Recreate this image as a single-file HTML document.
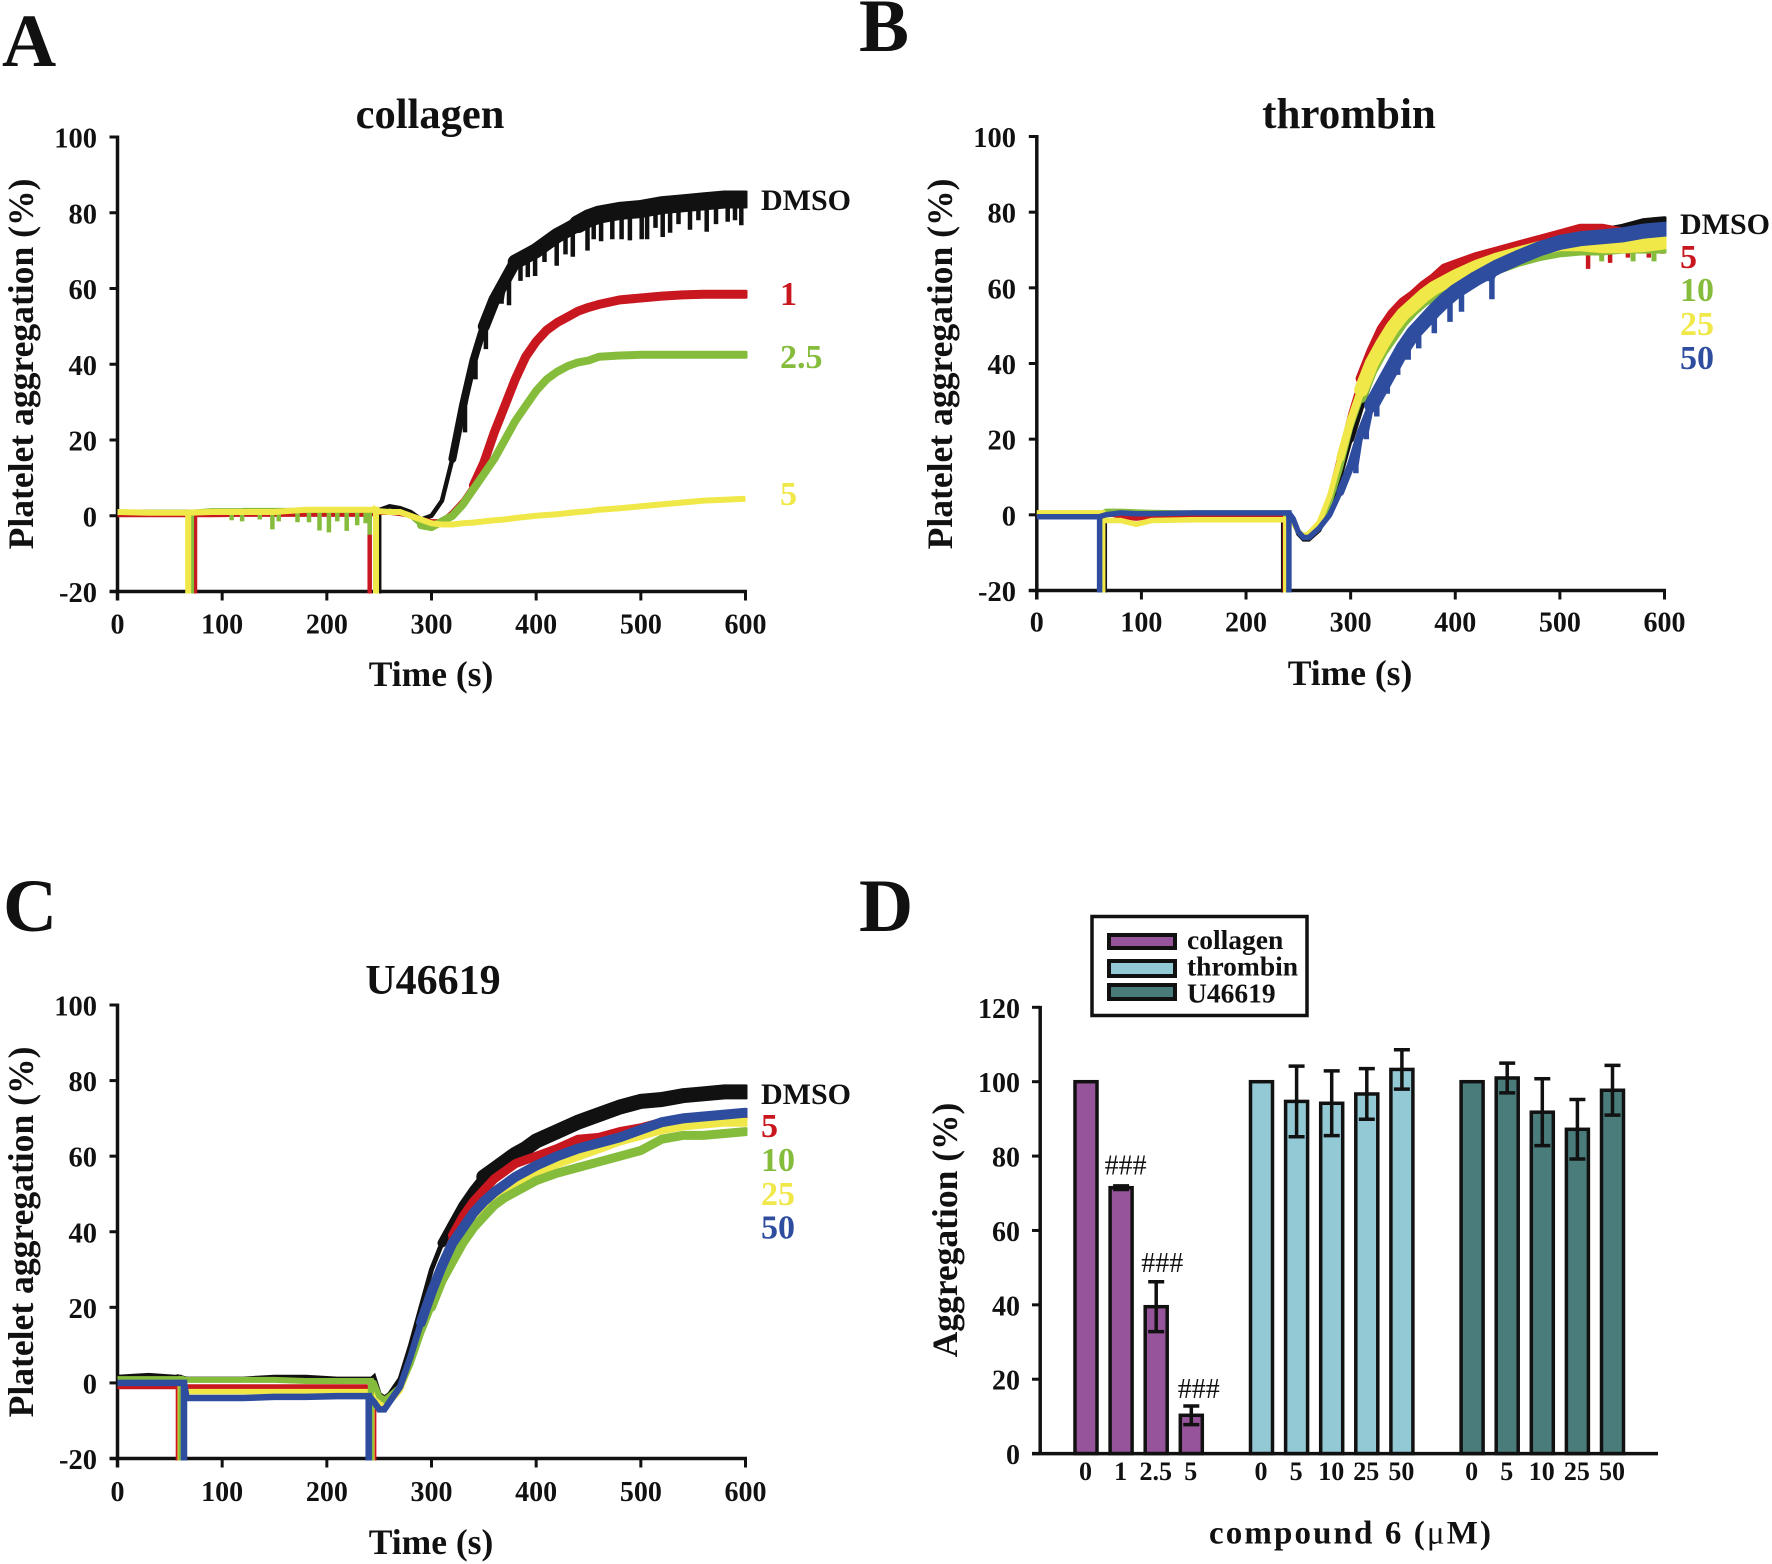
<!DOCTYPE html>
<html lang="en">
<head>
<meta charset="utf-8">
<title>Platelet aggregation panels</title>
<style>
html,body{margin:0;padding:0;background:#fff;}
svg{display:block;}
text{font-family:"Liberation Serif",serif;font-weight:bold;fill:#111;}
</style>
</head>
<body>
<svg id="fig" xmlns="http://www.w3.org/2000/svg" width="1772" height="1564" viewBox="0 0 1772 1564">
<rect x="0" y="0" width="1772" height="1564" fill="#fff"/>
<text x="2" y="66" font-size="75">A</text>
<text x="859" y="51" font-size="75">B</text>
<text x="3" y="931" font-size="75">C</text>
<text x="859" y="931" font-size="75">D</text>
<text x="430" y="128" font-size="42.5" text-anchor="middle">collagen</text>
<text x="1349" y="128" font-size="43" text-anchor="middle">thrombin</text>
<text x="433" y="994" font-size="42" text-anchor="middle">U46619</text>
<text x="431" y="686" font-size="35.5" text-anchor="middle">Time (s)</text>
<text x="1350" y="685" font-size="35.5" text-anchor="middle">Time (s)</text>
<text x="431" y="1554" font-size="35.5" text-anchor="middle">Time (s)</text>
<text transform="translate(33,364) rotate(-90)" font-size="35.6" text-anchor="middle">Platelet aggregation (%)</text>
<text transform="translate(952,364) rotate(-90)" font-size="35.6" text-anchor="middle">Platelet aggregation (%)</text>
<text transform="translate(33,1232) rotate(-90)" font-size="35.6" text-anchor="middle">Platelet aggregation (%)</text>
<text transform="translate(957,1230) rotate(-90)" font-size="35.5" text-anchor="middle">Aggregation (%)</text>
<text x="1350" y="1543.5" font-size="33" text-anchor="middle" textLength="282" lengthAdjust="spacing">compound 6 (<tspan font-weight="normal">μ</tspan>M)</text>

<g>
<rect x="1092" y="916.5" width="215" height="99" fill="#fff" stroke="#111" stroke-width="3.5"/>
<rect x="1109" y="935" width="66" height="13" fill="#96549b" stroke="#111" stroke-width="4"/>
<rect x="1109" y="961" width="66" height="15" fill="#93c9d5" stroke="#111" stroke-width="4"/>
<rect x="1109" y="985" width="66" height="14" fill="#4a7c7c" stroke="#111" stroke-width="4"/>
<text x="1187" y="949" font-size="27.5">collagen</text>
<text x="1187" y="975.5" font-size="27.5">thrombin</text>
<text x="1187" y="1002.5" font-size="27.5">U46619</text>
</g>
</svg>

<script>
// ---------- shared tick labels ----------
const timeTicks = [0, 100, 200, 300, 400, 500, 600];
const aggTicks = [-20, 0, 20, 40, 60, 80, 100];
const barTicks = [0, 20, 40, 60, 80, 100, 120];

// ---------- Panel A: collagen ----------
const timesA = [0,30,60,90,120,150,180,210,240,250,260,270,280,290,300,310,320,330,340,350,360,370,380,390,400,410,420,430,440,450,460,480,500,520,540,560,580,600];
const blackA = [1,1,1,1,1,1,1,1,1,1.5,2.5,2,1,-1,0,4,15,29,41,50,57,62,67,68.5,70,72,74,75.5,77,78.5,79.5,80.5,81,82,82.5,83,83.5,83.5];
const redA = [0.2,0.2,0.2,0.2,0.3,0.3,0.3,0.3,0.3,0.8,0.8,0.5,0,-1,-1.5,-1.5,1,4,8,14,22,29,36,42,46,49,51,52.5,54,55,55.8,57,57.5,58,58.3,58.5,58.5,58.5];
const greenA = [1,1,1,1.4,1.5,1.5,1.3,1.3,1.3,1.2,1,0.8,0,-2.5,-3,-1.5,0,3,7,11,15,20,25,29,33,36,38,39.5,40.5,41,42,42.3,42.5,42.5,42.5,42.5,42.5,42.5];
const yellowA = [1,0.8,0.8,1,1,1,1.6,1.6,1.6,1.2,1,1,0,-1,-2,-2.3,-2.3,-2,-1.8,-1.5,-1.2,-1,-0.6,-0.3,0,0.2,0.4,0.7,1,1.2,1.6,2,2.5,3,3.5,4,4.2,4.5];
const blackASpikeT = [250,332,342,352,367,374,385,392,399,408,419.6,428,435,449,455,462,472.7,481.6,489.6,500.8,506,514,520.9,528,536,547,555,562.9,571.8,583,590,596];
const blackASpikeV = [-25,22,36,44,56,55.6,62,63,63.3,67,66,69,68.4,70,73,72.5,73,73,72.7,73,73,76,73.6,74.7,77,75.5,78,75,77,77.6,78,76.7];
const redASpikeT = [74,241];
const redASpikeV = [-25,-25];
const greenASpikeT = [71,109,119,136,148,154,172,183,193,202,210,219,229,237,241];
const greenASpikeV = [-25,-1.2,-1.5,-1,-3.6,-1.5,-1.7,-1.7,-3.9,-4.4,-1.5,-4,-2.5,-2,-5];
const yellowASpikeT = [67.5,247];
const yellowASpikeV = [-25,-25];
const labelsA = ['DMSO', '1', '2.5', '5'];

// ---------- Panel B: thrombin ----------
const timesB = [0,30,58,66,80,95,110,150,200,235,245,250,255,260,270,280,290,300,310,320,330,340,350,360,370,380,390,400,420,440,460,480,500,520,540,560,580,600];
const blackB = [0,0,0,0,0,0,0,0,0,0,-1,-5,-6.5,-6.5,-4,2,10,20,29,37,43,48,52,55,58,60,62,64,66,68,70,72,74,75,75,76,77.5,78];
const redB = [0,0,0,0.5,-0.5,-1,-0.5,0,0,0,-1.5,-4.5,-5.5,-5,-2.5,5,16,27,36,43,49,53,56,58,60.5,62.5,65,66,68,69.5,71,72.5,74,75.5,75.5,74.5,74,73];
const greenB = [0.5,0.5,0.5,1,1,0.8,0.7,0.5,0.5,0.5,-1,-4.5,-5.5,-5.5,-3,3,12,23,31,38,43,47,51,54,56.5,58,60,61.5,63.5,65,67,68.5,69.5,70,70,70.5,70.5,70.5];
const yellowB = [0.5,0.5,0.5,-1.5,-1.5,-2.5,-1.5,-1.3,-1.3,-1.3,-2,-4.5,-5.5,-5,-2,5,15,25,33,40,45,49.5,53,55.5,58,60,61.5,63,65.5,67.5,69,70.5,71.5,71.5,71,71,71.3,72];
const blueB = [-0.5,-0.5,-0.5,0,0.5,0.3,0.3,0.5,0.5,0.5,-1,-4.5,-6,-6,-3.5,0,6,13,22,29,34,39,44,48,51,54,56.7,59,62.5,65.5,68,70.3,72,73,73.5,74,75,75.5];
const blackBSpikeT = [65,235.5];
const blackBSpikeV = [-25,-25];
const redBSpikeT = [63,237,527,548,565,585,598];
const redBSpikeV = [-25,-25,65,66.6,68,68,69];
const greenBSpikeT = [63,238,540,570,590];
const greenBSpikeV = [-25,-25,67,67,67];
const yellowBSpikeT = [63,238];
const yellowBSpikeV = [-25,-25];
const blueBSpikeT = [60,241,305,315,325,335,345,355,365,380,395,406,435];
const blueBSpikeV = [-25,-25,11,20,26,32,37,41,44,48,51,53.7,57];
const labelsB = ['DMSO', '5', '10', '25', '50'];

// ---------- Panel C: U46619 ----------
const timesC = [0,30,55,66,90,120,150,180,210,238,245,250,255,260,270,280,290,300,310,320,330,340,350,360,370,380,390,400,420,440,460,480,500,520,540,560,580,600];
const blackC = [1.5,2,1.5,1,1,1,1.5,1.5,1,1,1.5,-3,-4,-3,1,10,20,30,37,42,47,51,54.5,56.5,58.5,60.5,62,64,66.5,69,71,73,74.5,75,76,76.5,77,77];
const redC = [-1,-1,-1,-1,-1,-1,-1,-1,-1,-1,-1.5,-5,-6,-5,-2,6,15,24,32,39,44,48,51,54,56,58,59,60,62,64.5,65,66.5,67.5,69,69.5,70,70,70];
const yellowC = [0,0,0,-2.3,-2.3,-2.3,-2.3,-2.3,-2.3,-2.3,-3,-5.5,-6,-5,-2,5,14,22,29,35,40,43,46,49,51,52.5,54,55.5,58,60,62,64,65.5,67,68,68.5,69,69];
const greenC = [1,1,1,0.8,0.8,0.8,0.8,0.5,0.5,0.5,0,-3.5,-4.5,-3.5,-1,5,13,20,27,32,37,41,44,47,49,50.5,52,53.5,55.5,57,58.5,60,61.5,64.5,65.5,65.5,66,66.5];
const blueC = [0,0,0,-4,-4,-4,-3.7,-3.7,-3.5,-3.5,-5,-7,-7,-5,-1,7,16,24,31,37,41,45,48,50.5,52.5,54.5,56,57.5,60,62,63.5,65,67,69,70,70.5,71,71.5];
const blackCSpikeT = [59,243];
const blackCSpikeV = [-25,-25];
const redCSpikeT = [58,245];
const redCSpikeV = [-25,-25];
const yellowCSpikeT = [60,243];
const yellowCSpikeV = [-25,-25];
const greenCSpikeT = [61,242];
const greenCSpikeV = [-25,-25];
const blueCSpikeT = [63.5,240];
const blueCSpikeV = [-25,-25];
const labelsC = ['DMSO', '5', '10', '25', '50'];

// ---------- Panel D: bars ----------
const barCategories = ['0','1','2.5','5','0','5','10','25','50','0','5','10','25','50'];
const barGroups = [0,0,0,0,1,1,1,1,1,2,2,2,2,2];
const barValues = [100,71.5,39.5,10.3,100,94.7,94.2,96.7,103.3,100,101,91.8,87.2,97.7];
const barErrors = [0,0.5,6.7,2.5,0,9.5,8.7,6.8,5.3,0,4,9,8,6.7];
const barSignificance = ['','###','###','###','','','','','','','','','',''];
const groupColors = ['#96549b','#93c9d5','#4a7c7c'];

// ---------- helpers ----------
const NS = 'http://www.w3.org/2000/svg';
const fig = document.getElementById('fig');
const COLORS = {black:'#111111', red:'#c8171e', green:'#86bc3c', yellow:'#f0e848', blue:'#2f4d9f'};

function shape(parent, tag, attrs) {
  const el = document.createElementNS(NS, tag);
  for (const k in attrs) el.setAttribute(k, attrs[k]);
  parent.appendChild(el);
  return el;
}
function makeScales(x0, x1, yTop, yBot) {
  return {
    x: function (t) { return x0 + t / 600 * (x1 - x0); },
    y: function (v) { return yBot - (v + 20) / 120 * (yBot - yTop); }
  };
}
function tracePath(sc, times, values, spikeT, spikeV) {
  let d = '';
  for (let i = 0; i < times.length; i++) {
    d += (i ? 'L' : 'M') + sc.x(times[i]).toFixed(1) + ' ' + sc.y(values[i]).toFixed(1);
    for (let s = 0; s < spikeT.length; s++) {
      const inRange = spikeT[s] >= times[i] && (i === times.length - 1 ? spikeT[s] === times[i] : spikeT[s] < times[i + 1]);
      if (inRange) {
        const sx = sc.x(spikeT[s]).toFixed(1);
        d += 'L' + sx + ' ' + sc.y(values[i]).toFixed(1);
        d += 'L' + sx + ' ' + sc.y(spikeV[s]).toFixed(1);
        d += 'L' + sx + ' ' + sc.y(values[i]).toFixed(1);
      }
    }
  }
  return d;
}
function bandPath(sc, times, values, from) {
  let d = '';
  for (let i = 0; i < times.length; i++) {
    if (times[i] >= from) {
      d += (d ? 'L' : 'M') + sc.x(times[i]).toFixed(1) + ' ' + sc.y(values[i]).toFixed(1);
    }
  }
  return d;
}
function drawAxes(g, sc, x0, x1, yTop, yBot, panel, xLabelBase, yLabelRight) {
  const yAxis = shape(g, 'line', {x1:x0, x2:x0, y1:yTop-1.5, y2:yBot+9, stroke:'#111', 'stroke-width':3.5});
  
  
  const xAxis = shape(g, 'line', {x1:x0-8, x2:x1+1.5, y1:yBot, y2:yBot, stroke:'#111', 'stroke-width':3.5});
  
  
  timeTicks.forEach(function (t) {
    const tick = shape(g, 'line', {x1:sc.x(t), x2:sc.x(t), y1:yBot, y2:yBot+9, stroke:'#111', 'stroke-width':3});
    
    
    const lab = shape(g, 'text', {x:sc.x(t), y:xLabelBase, 'font-size':28, 'text-anchor':'middle'});
    lab.textContent = String(t);
    
    
  });
  aggTicks.forEach(function (v) {
    const tick = shape(g, 'line', {x1:x0-8, x2:x0, y1:sc.y(v), y2:sc.y(v), stroke:'#111', 'stroke-width':3});
    
    
    const lab = shape(g, 'text', {x:yLabelRight, y:sc.y(v)+10.5, 'font-size':28.5, 'text-anchor':'end'});
    lab.textContent = String(v);
    
    
  });
}
function drawTraces(g, sc, panel, x0, x1, yTop, yBot, times, traces) {
  const clipId = 'clip-' + panel;
  const clip = shape(g, 'clipPath', {id:clipId});
  shape(clip, 'rect', {x:x0-4, y:yTop-10, width:x1-x0+6, height:yBot-yTop+12});
  traces.forEach(function (tr) {
    const p = shape(g, 'path', {
      d: tracePath(sc, times, tr.values, tr.spikeT, tr.spikeV),
      fill:'none', stroke:COLORS[tr.color], 'stroke-width':tr.width,
      'stroke-linejoin':'miter', 'stroke-miterlimit':2, 'clip-path':'url(#' + clipId + ')'
    });
    
    
    tr.bands.forEach(function (b) {
      const band = shape(g, 'path', {
        d: bandPath(sc, times, tr.values, b.from),
        fill:'none', stroke:COLORS[tr.color], 'stroke-width':b.width,
        'stroke-linejoin':'round', 'stroke-linecap':'round', 'clip-path':'url(#' + clipId + ')'
      });
      
      
    });
  });
}
function drawSeriesLabels(g, panel, texts, colors, xs, ys) {
  texts.forEach(function (t, i) {
    const lab = shape(g, 'text', {x:xs[i], y:ys[i], 'font-size':(t === 'DMSO' ? 30 : 34)});
    lab.style.fill = COLORS[colors[i]];
    lab.textContent = t;
    
    
  });
}

// ---------- Panel A render ----------
(function () {
  const g = shape(fig, 'g', {});
  
  
  const sc = makeScales(117.5, 745.5, 137, 591.5);
  drawAxes(g, sc, 117.5, 745.5, 137, 591.5, 'a', 633.5, 97);
  drawTraces(g, sc, 'a', 117.5, 745.5, 137, 591.5, timesA, [
    {name:'dmso', color:'black', width:4.5, values:blackA, spikeT:blackASpikeT, spikeV:blackASpikeV, bands:[{from:320,width:8},{from:350,width:12},{from:380,width:15},{from:440,width:18}]},
    {name:'1', color:'red', width:4.5, values:redA, spikeT:redASpikeT, spikeV:redASpikeV, bands:[{from:340,width:9}]},
    {name:'2-5', color:'green', width:4.5, values:greenA, spikeT:greenASpikeT, spikeV:greenASpikeV, bands:[{from:290,width:8}]},
    {name:'5', color:'yellow', width:6, values:yellowA, spikeT:yellowASpikeT, spikeV:yellowASpikeV, bands:[]}
  ]);
  drawSeriesLabels(g, 'a', labelsA, ['black','red','green','yellow'], [761,780,780,780], [210,305,368,505]);
})();

// ---------- Panel B render ----------
(function () {
  const g = shape(fig, 'g', {});
  
  
  const sc = makeScales(1036.8, 1664.5, 136.5, 590.5);
  drawAxes(g, sc, 1036.8, 1664.5, 136.5, 590.5, 'b', 631.5, 1016);
  drawTraces(g, sc, 'b', 1036.8, 1664.5, 136.5, 590.5, timesB, [
    {name:'dmso', color:'black', width:4.5, values:blackB, spikeT:blackBSpikeT, spikeV:blackBSpikeV, bands:[{from:300,width:7}]},
    {name:'5', color:'red', width:4.5, values:redB, spikeT:redBSpikeT, spikeV:redBSpikeV, bands:[{from:310,width:11}]},
    {name:'10', color:'green', width:5, values:greenB, spikeT:greenBSpikeT, spikeV:greenBSpikeV, bands:[{from:310,width:11}]},
    {name:'25', color:'yellow', width:5.5, values:yellowB, spikeT:yellowBSpikeT, spikeV:yellowBSpikeV, bands:[{from:290,width:8},{from:310,width:14}]},
    {name:'50', color:'blue', width:5.5, values:blueB, spikeT:blueBSpikeT, spikeV:blueBSpikeV, bands:[{from:290,width:8},{from:320,width:15}]}
  ]);
  drawSeriesLabels(g, 'b', labelsB, ['black','red','green','yellow','blue'], [1680,1680,1680,1680,1680], [234,268,301,335,369]);
})();

// ---------- Panel C render ----------
(function () {
  const g = shape(fig, 'g', {});
  
  
  const sc = makeScales(117.5, 745.5, 1005, 1458.5);
  drawAxes(g, sc, 117.5, 745.5, 1005, 1458.5, 'c', 1501, 97);
  drawTraces(g, sc, 'c', 117.5, 745.5, 1005, 1458.5, timesC, [
    {name:'dmso', color:'black', width:5, values:blackC, spikeT:blackCSpikeT, spikeV:blackCSpikeV, bands:[{from:310,width:9},{from:350,width:15}]},
    {name:'5', color:'red', width:5, values:redC, spikeT:redCSpikeT, spikeV:redCSpikeV, bands:[{from:320,width:9}]},
    {name:'25', color:'yellow', width:5.5, values:yellowC, spikeT:yellowCSpikeT, spikeV:yellowCSpikeV, bands:[{from:320,width:9}]},
    {name:'10', color:'green', width:6, values:greenC, spikeT:greenCSpikeT, spikeV:greenCSpikeV, bands:[{from:300,width:9}]},
    {name:'50', color:'blue', width:6.5, values:blueC, spikeT:blueCSpikeT, spikeV:blueCSpikeV, bands:[{from:290,width:10}]}
  ]);
  drawSeriesLabels(g, 'c', labelsC, ['black','red','green','yellow','blue'], [761,761,761,761,761], [1104,1137,1171,1205,1238.5]);
})();

// ---------- Panel D render ----------
(function () {
  const g = shape(fig, 'g', {});
  
  
  const xAt = function (i) { return 1086 + 35.1 * (i + barGroups[i]); };
  const yAt = function (v) { return 1453.6 - v * 3.719; };
  const yAxis = shape(g, 'line', {x1:1040.2, x2:1040.2, y1:yAt(120)-1.5, y2:yAt(0), stroke:'#111', 'stroke-width':3.5});
  
  
  barTicks.forEach(function (v) {
    const tick = shape(g, 'line', {x1:1032, x2:1040, y1:yAt(v), y2:yAt(v), stroke:'#111', 'stroke-width':3});
    
    
    const lab = shape(g, 'text', {x:1020, y:yAt(v)+10.5, 'font-size':28, 'text-anchor':'end'});
    lab.textContent = String(v);
    
    
  });
  barValues.forEach(function (v, i) {
    const cx = xAt(i);
    const bar = shape(g, 'rect', {x:cx-11, y:yAt(v), width:22, height:yAt(0)-yAt(v), fill:groupColors[barGroups[i]], stroke:'#111', 'stroke-width':3.5});
    
    
    if (barErrors[i] > 0) {
      const hi = yAt(v + barErrors[i]);
      const lo = yAt(v - barErrors[i]);
      const err = shape(g, 'path', {d:'M' + (cx-8) + ' ' + hi + 'H' + (cx+8) + 'M' + cx + ' ' + hi + 'V' + lo + 'M' + (cx-8) + ' ' + lo + 'H' + (cx+8), fill:'none', stroke:'#111', 'stroke-width':3.5});
      
      
    }
    const lab = shape(g, 'text', {x:cx-0.5, y:1480, 'font-size':26, 'text-anchor':'middle'});
    lab.textContent = barCategories[i];
    
    
    if (barSignificance[i]) {
      const sig = shape(g, 'text', {x:cx+3+1.5*i, y:yAt(v + barErrors[i]) - 13 + 1.6*i, 'font-size':28, 'text-anchor':'middle'});
      sig.style.fontWeight = 'normal';
      sig.textContent = barSignificance[i];
      
      
    }
  });
  const xAxis = shape(g, 'line', {x1:1032, x2:1658, y1:yAt(0), y2:yAt(0), stroke:'#111', 'stroke-width':3.5});
  
  
})();
</script>
</body>
</html>
